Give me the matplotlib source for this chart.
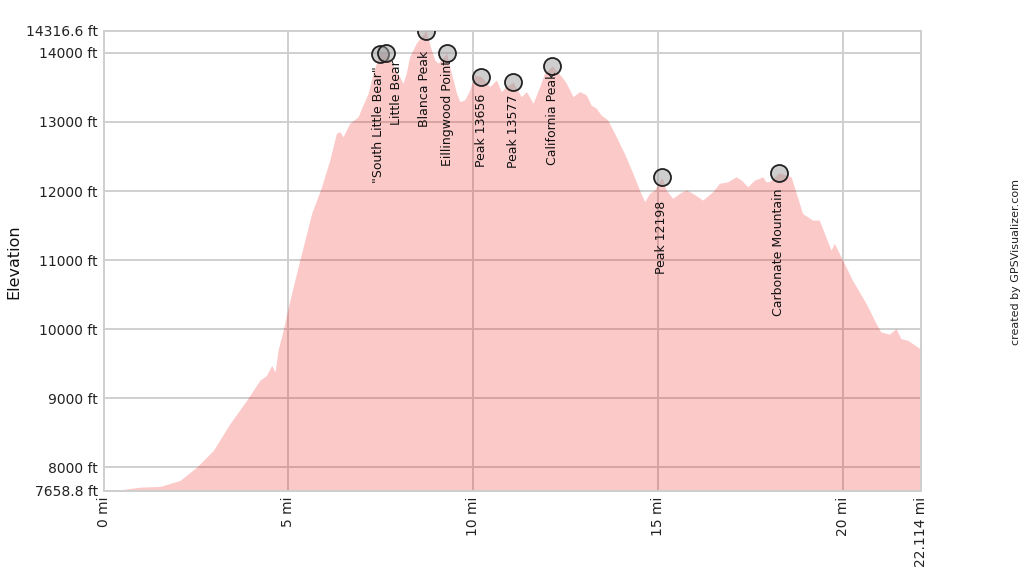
import matplotlib
matplotlib.use("Agg")
import matplotlib.pyplot as plt

plt.rcParams['font.family'] = ['DejaVu Sans']

# Elevation profile (distance in miles, elevation in feet)
dist_mi = [0.0, 0.5, 1.0, 1.53, 2.07, 2.52, 2.97, 3.42, 3.87, 4.23, 4.41, 4.55, 4.64, 4.72,
           4.86, 5.0, 5.13, 5.31, 5.63, 5.90, 6.12, 6.30, 6.39, 6.48, 6.66, 6.89, 6.98,
           7.16, 7.29, 7.47, 7.65, 7.85, 8.01, 8.10, 8.19, 8.28, 8.46, 8.72, 8.87, 8.96,
           9.05, 9.28, 9.41, 9.55, 9.64, 9.77, 9.91, 10.04, 10.22, 10.45, 10.63, 10.76,
           10.90, 11.08, 11.30, 11.44, 11.62, 11.80, 11.93, 12.14, 12.43, 12.52, 12.70,
           12.88, 13.06, 13.19, 13.33, 13.46, 13.64, 13.87, 14.09, 14.32, 14.50, 14.64,
           14.77, 14.91, 15.10, 15.22, 15.40, 15.58, 15.76, 15.94, 16.21, 16.48, 16.66,
           16.89, 17.11, 17.25, 17.43, 17.61, 17.74, 17.83, 17.92, 18.01, 18.27, 18.60,
           18.74, 18.91, 19.18, 19.36, 19.54, 19.68, 19.77, 19.95, 20.26, 20.63, 20.90,
           21.03, 21.26, 21.44, 21.57, 21.75, 21.89, 22.114]
elev_ft = [7665, 7680, 7715, 7725, 7812, 8004, 8246, 8633, 8971, 9261, 9333, 9478, 9381, 9696,
           9986, 10323, 10613, 11000, 11677, 12063, 12449, 12836, 12860, 12787, 12981, 13077, 13198,
           13416, 13705, 13990, 13995, 13800, 13657, 13561, 13705, 13947, 14140, 14316.6, 14043, 13899,
           13850, 13995, 13705, 13416, 13295, 13319, 13464, 13681, 13656, 13512, 13609, 13440,
           13512, 13577, 13367, 13440, 13271, 13512, 13705, 13812, 13633, 13561, 13367,
           13440, 13391, 13246, 13198, 13101, 13029, 12787, 12546, 12256, 12015, 11845,
           11967, 12015, 12198, 12015, 11894, 11967, 12015, 11967, 11870, 11990, 12112,
           12135, 12207, 12160, 12063, 12160, 12184, 12207, 12135, 12135, 12265, 12208,
           11967, 11677, 11580, 11580, 11338, 11145, 11242, 11048, 10710, 10372, 10082,
           9961, 9928, 10010, 9865, 9841, 9792, 9710]

# Named summits
peak_names = ['"South Little Bear"', 'Little Bear', 'Blanca Peak', 'Eillingwood Point',
              'Peak 13656', 'Peak 13577', 'California Peak', 'Peak 12198', 'Carbonate Mountain']
peak_mi = [7.47, 7.65, 8.72, 9.28, 10.22, 11.08, 12.14, 15.10, 18.27]
peak_ft = [13990, 13995, 14316.6, 13995, 13656, 13577, 13812, 12198, 12265]
label_dx = [-1, 7, -1, 1, 0, 0, 0, 0, 0]
label_dy = [-9, -5, -14, -5, -12, -9, -4, -17, -11]

y_ticks = [7658.8, 8000, 9000, 10000, 11000, 12000, 13000, 14000, 14316.6]
y_tick_labels = ['7658.8 ft', '8000 ft', '9000 ft', '10000 ft', '11000 ft', '12000 ft',
                 '13000 ft', '14000 ft', '14316.6 ft']
x_ticks = [0, 5, 10, 15, 20, 22.114]
x_tick_labels = ['0 mi', '5 mi', '10 mi', '15 mi', '20 mi', '22.114 mi']

fig = plt.figure(figsize=(10.24, 5.76), dpi=100)
ax = fig.add_axes([103.5 / 1024, 85 / 576, (921 - 103.5) / 1024, (491 - 31) / 576])

ymin, ymax = 7658.8, 14316.6
ax.set_xlim(0, 22.114)
ax.set_ylim(ymin, ymax)

ax.set_axisbelow(True)
ax.grid(True, color='#cfcfcf', linewidth=1.4, zorder=0)
ax.fill_between(dist_mi, ymin, elev_ft, color='#f20000', alpha=0.21, linewidth=0, zorder=1)

ax.scatter(peak_mi, peak_ft, s=150, facecolor=(0.62, 0.62, 0.62, 0.5), edgecolor='#222222',
           linewidth=1.3, zorder=4)
for name, x, y, dx, dy in zip(peak_names, peak_mi, peak_ft, label_dx, label_dy):
    ax.annotate(name, (x, y), xytext=(dx, dy), textcoords='offset points', rotation=90,
                ha='center', va='top', fontsize=9, color='#111111', zorder=5)

ax.set_yticks(y_ticks)
ax.set_yticklabels(y_tick_labels, fontsize=10, color='#222222')
ax.set_xticks(x_ticks)
ax.set_xticklabels(x_tick_labels, fontsize=10, rotation=90, color='#222222')
ax.tick_params(length=0, pad=4)

for s in ax.spines.values():
    s.set_color('#cfcfcf')
    s.set_linewidth(1.4)

fig.text(14 / 1024, 1 - 262 / 576, 'Elevation', rotation=90, ha='center', va='center',
         fontsize=11.5, color='#111111')
fig.text(1016 / 1024, 1 - 262 / 576, 'created by GPSVisualizer.com', rotation=90,
         ha='center', va='center', fontsize=8, color='#222222')

fig.savefig('out.png', dpi=100)
